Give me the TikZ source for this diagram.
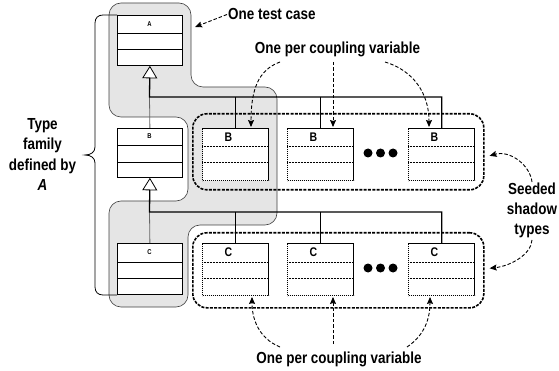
\documentclass[tikz,border=0pt]{standalone}
\usepackage{fontspec}
\setmainfont{Liberation Sans}[FakeStretch=0.84]
\usetikzlibrary{arrows.meta,calc}
\begin{document}
\begin{tikzpicture}[x=1pt,y=-1pt,
  lbl/.style={font=\fontsize{16}{20.3}\selectfont\bfseries, align=center, inner sep=0pt},
  small/.style={font=\fontsize{7}{8}\selectfont\bfseries, inner sep=0pt},
  big/.style={font=\fontsize{12.5}{14}\selectfont\bfseries, inner sep=0pt},
  umlbox/.style={draw=black, line width=0.8pt, fill=white, inner sep=0pt, anchor=north west, minimum width=65pt},
  shbox/.style={draw=black, line width=1.4pt, dash pattern=on 1.4pt off 0.6pt, fill=white, inner sep=0pt, anchor=north west, minimum width=66pt, minimum height=52pt},
  div/.style={draw=black, line width=0.8pt},
  shdiv/.style={draw=black, line width=1pt, dash pattern=on 1pt off 0.5pt},
  grp/.style={draw=black, line width=1.6pt, dash pattern=on 3pt off 1.3pt, rounded corners=14pt, inner sep=0pt, anchor=north west, minimum width=291pt},
  darr/.style={draw=black, line width=0.9pt, dash pattern=on 3.5pt off 2pt, -{Stealth[length=7pt,width=6pt,inset=1pt]}},
  bus/.style={draw=black, line width=1.3pt},
  drop/.style={draw=black, line width=0.9pt},
  inhline/.style={draw=black!60, line width=0.8pt},
  tri/.style={-{Triangle[open, fill=white, length=12.5pt, width=15pt, line width=0.8pt]}},
  dot/.style={circle, fill=black, inner sep=0pt, minimum size=9pt},
  tcase/.style={fill=black!10, draw=black!75, line width=0.6pt, rounded corners=12pt},
  brace/.style={draw=black, line width=0.8pt}
]
\useasboundingbox (0,0) rectangle (559,371);

% one test case region
\path[tcase] (109,3) -- (191,3) -- (191,87) -- (277,87) -- (277,225) -- (188,225)
  -- (188,307) -- (109,307) -- (109,201) -- (188,201) -- (188,117) -- (109,117) -- cycle;

% brace
\draw[brace] (117,15) -- (103,15) .. controls (98,15) and (95,18) .. (95,23) -- (95,147)
  .. controls (95,152) and (91,155) .. (85,155) .. controls (91,155) and (95,158) .. (95,163)
  -- (95,287) .. controls (95,292) and (98,295) .. (103,295) -- (117,295);

% groups
\node[grp, minimum height=76pt] (gB) at (192,113) {};
\node[grp, minimum height=75pt] (gC) at (192,232) {};

% type family boxes
\node[umlbox, minimum height=50pt] (A) at (117,15) {};
\draw[div] (117,33) -- (182,33);
\draw[div] (117,49) -- (182,49);
\node[small] (lA) at (149.5,24) {A};

\node[umlbox, minimum height=49pt] (B) at (117,128) {};
\draw[div] (117,145) -- (182,145);
\draw[div] (117,162) -- (182,162);
\node[small] (lB) at (149.5,136.5) {B};

\node[umlbox, minimum height=51pt] (C) at (117,243) {};
\draw[div] (117,262) -- (182,262);
\draw[div] (117,278) -- (182,278);
\node[small] (lC) at (149.5,252.5) {C};

% shadow boxes
\foreach \n/\x in {1/202,2/287,3/408}{
  \node[shbox] (sB\n) at (\x,128) {};
  \draw[shdiv] (\x,147) -- ++(66,0);
  \draw[shdiv] (\x,163) -- ++(66,0);
  \node[big] (lsB\n) at ({\x+26.5},137.5) {B};
  \node[shbox] (sC\n) at (\x,243) {};
  \draw[shdiv] (\x,262) -- ++(66,0);
  \draw[shdiv] (\x,278) -- ++(66,0);
  \node[big] (lsC\n) at ({\x+26.5},252.5) {C};
}

% dots
\node[dot] (dB1) at (368,153) {};
\node[dot] (dB2) at (380.5,153) {};
\node[dot] (dB3) at (393,153) {};
\node[dot] (dC1) at (368,268) {};
\node[dot] (dC2) at (380.5,268) {};
\node[dot] (dC3) at (393,268) {};

% inheritance and seeding connectors
\coordinate (jA) at (149.5,97);
\coordinate (jB) at (149.5,212);
\draw[inhline] (B.north) -- (jA);
\draw[inhline] (C.north) -- (jB);
\draw[bus, tri] (sB3.north) -- (jA -| sB3.north) -- (jA) -- (A.south);
\draw[bus, tri] (sC3.north) -- (jB -| sC3.north) -- (jB) -- (B.south);
\draw[drop] (jA -| sB1.north) -- (sB1.north);
\draw[drop] (jA -| sB2.north) -- (sB2.north);
\draw[drop] (jB -| sC1.north) -- (sC1.north);
\draw[drop] (jB -| sC2.north) -- (sC2.north);

% texts
\node[lbl, anchor=base west] (tc) at (228,20) {One test case};
\node[lbl, anchor=base] (ptop) at (337.5,54) {One per coupling variable};
\node[lbl, anchor=base] (pbot) at (339,363) {One per coupling variable};
\node[lbl] (fam) at (42.5,154.5) {Type\\family\\defined by\\\textit{A}};
\node[lbl] (seed) at (532,210.5) {Seeded\\shadow\\types};

% annotation arrows
\coordinate (tcT) at (195,27);
\draw[darr] ([xshift=-1pt]tc.west) -- (tcT);

\coordinate (t1) at (280,62);
\coordinate (t2) at (333,62);
\coordinate (t3) at (385,62);
\coordinate (t1e) at (251,127);
\coordinate (t2e) at (333,127);
\coordinate (t3e) at (429,127);
\draw[darr] (t1) .. controls (258,70) and (251,90) .. (t1e);
\draw[darr] (t2) -- (t2e);
\draw[darr] (t3) .. controls (412,70) and (429,92) .. (t3e);

\coordinate (b1) at (280,347);
\coordinate (b2) at (333,344);
\coordinate (b3) at (407,347);
\coordinate (b1e) at (252,297);
\coordinate (b2e) at (333,297);
\coordinate (b3e) at (430,297);
\draw[darr] (b1) .. controls (258,338) and (252,318) .. (b1e);
\draw[darr] (b2) -- (b2e);
\draw[darr] (b3) .. controls (425,335) and (430,318) .. (b3e);

\coordinate (s1) at (532,182);
\coordinate (s2) at (532,240);
\coordinate (s1e) at ($(gB.east)+(5,4)$);
\coordinate (s2e) at ($(gC.east)+(5,-2)$);
\draw[darr] (s1) .. controls (530,165) and (510,150) .. (s1e);
\draw[darr] (s2) .. controls (531,255) and (510,266) .. (s2e);
\end{tikzpicture}
\end{document}
